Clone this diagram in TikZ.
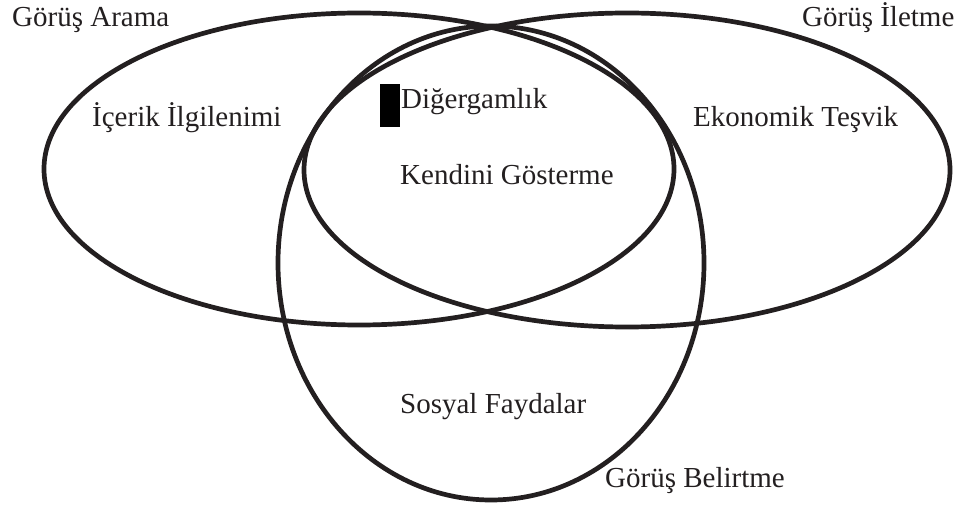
\documentclass[tikz,border=0pt]{standalone}
\usepackage{fontspec}
\setmainfont{Liberation Serif}
\definecolor{ink}{HTML}{231F20}
\definecolor{txt}{HTML}{231F20}
\begin{document}
\begin{tikzpicture}[x=1pt,y=-1pt,
  ring/.style={draw=ink,line width=4.7pt},
  lbl/.style={anchor=base west,inner sep=0pt,font=\fontsize{29}{32}\selectfont,text=txt}]
\useasboundingbox (0,0) rectangle (963,510);
% the three overlapping ellipses
\draw[ring] (359,169) ellipse [x radius=315,y radius=156];
\draw[ring] (627,170) ellipse [x radius=323,y radius=157];
\draw[ring] (491,263) ellipse [x radius=213,y radius=237];
% marker before the first label of the central region
\fill[black] (380,84) rectangle (400,127);
% circle names
\node[lbl] (arama) at (12,27) {Görüş Arama};
\node[lbl] (iletme) at (802,27) {Görüş İletme};
\node[lbl] (belirtme) at (605,487) {Görüş Belirtme};
% region labels
\node[lbl] (icerik) at (92,127) {İçerik İlgilenimi};
\node[lbl] (ekonomik) at (693,127) {Ekonomik Teşvik};
\node[lbl] (diger) at (401,109) {Diğergamlık};
\node[lbl] (kendini) at (400,185) {Kendini Gösterme};
\node[lbl] (sosyal) at (400,413) {Sosyal Faydalar};
\end{tikzpicture}
\end{document}
